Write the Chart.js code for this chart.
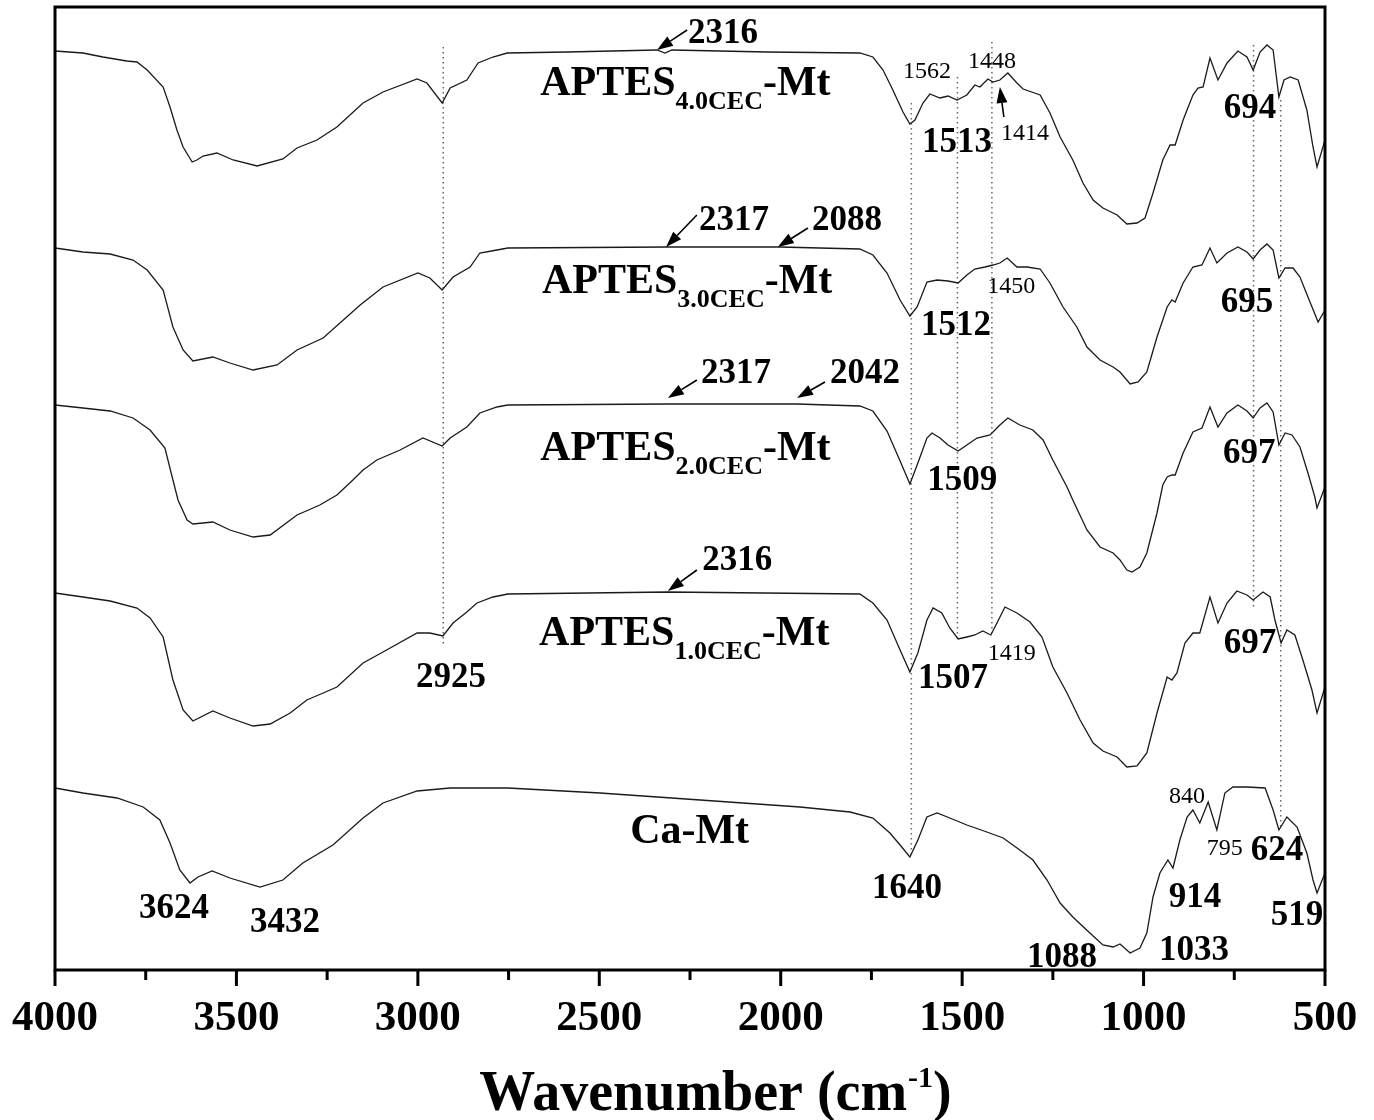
<!DOCTYPE html>
<html>
<head>
<meta charset="utf-8">
<title>FTIR spectra of Ca-Mt and APTES-Mt</title>
<script src="https://cdn.jsdelivr.net/npm/chart.js@4.4.1/dist/chart.umd.min.js"></script>
<style>
    html, body { margin: 0; padding: 0; background: #fff; }
    #wrap { width: 1374px; height: 1120px; }
</style>
</head>
<body>
<div id="wrap"><canvas id="plot1" width="1374" height="1120"></canvas></div>
<script>
// wavenumbers (cm-1) and offset transmittance (a.u.)

const wnCaMt = [4000, 3923, 3829, 3757, 3711, 3683, 3656, 3628, 3606, 3567, 3518, 3435, 3372, 3317, 3234, 3151, 3096, 3002, 2911, 2752, 2498, 2222, 1947, 1809, 1746, 1699, 1671, 1644, 1622, 1597, 1569, 1534, 1487, 1432, 1387, 1341, 1305, 1266, 1230, 1195, 1148, 1112, 1084, 1065, 1037, 1010, 991, 974, 955, 933, 919, 900, 880, 864, 845, 822, 798, 776, 754, 715, 665, 643, 627, 605, 577, 550, 533, 522, 500];
const tCaMt = [182, 177, 172, 163, 150, 127, 100, 87, 93, 99, 92, 83, 90, 107, 125, 152, 167, 179, 182, 182, 177, 170, 163, 158, 152, 137, 125, 113, 130, 153, 157, 152, 145, 138, 132, 120, 110, 90, 67, 53, 37, 25, 23, 26, 17, 22, 37, 73, 97, 110, 102, 130, 153, 160, 147, 168, 140, 177, 183, 183, 182, 160, 140, 153, 143, 117, 90, 77, 97];

const wnA1 = [4000, 3923, 3848, 3774, 3738, 3702, 3675, 3647, 3620, 3565, 3518, 3454, 3407, 3352, 3306, 3261, 3223, 3151, 3096, 3002, 2967, 2931, 2903, 2865, 2837, 2793, 2752, 2311, 1782, 1746, 1707, 1671, 1644, 1622, 1597, 1580, 1556, 1534, 1511, 1487, 1465, 1443, 1421, 1404, 1382, 1349, 1313, 1280, 1250, 1211, 1175, 1139, 1112, 1073, 1046, 1018, 991, 963, 935, 922, 908, 886, 864, 845, 817, 795, 770, 743, 715, 698, 671, 651, 638, 621, 605, 583, 561, 536, 522, 500];
const tA1 = [377, 373, 369, 362, 352, 333, 290, 260, 249, 259, 252, 244, 246, 257, 270, 277, 283, 307, 318, 337, 337, 334, 347, 358, 367, 373, 376, 378, 376, 367, 350, 320, 298, 317, 350, 362, 357, 342, 331, 333, 335, 339, 335, 347, 363, 357, 348, 333, 303, 277, 250, 227, 219, 213, 203, 204, 217, 257, 293, 290, 297, 327, 337, 337, 373, 347, 367, 379, 375, 370, 378, 373, 350, 327, 340, 335, 310, 280, 257, 283];

const wnA2 = [4000, 3923, 3848, 3785, 3738, 3697, 3675, 3661, 3636, 3620, 3565, 3518, 3454, 3407, 3333, 3270, 3223, 3179, 3151, 3113, 3049, 2986, 2933, 2911, 2865, 2829, 2782, 2752, 2311, 1955, 1782, 1746, 1707, 1671, 1644, 1622, 1597, 1583, 1561, 1539, 1511, 1487, 1459, 1423, 1396, 1374, 1341, 1305, 1277, 1250, 1211, 1195, 1156, 1120, 1084, 1065, 1046, 1032, 1010, 991, 963, 947, 935, 922, 913, 891, 864, 839, 817, 795, 770, 740, 715, 698, 679, 660, 643, 627, 610, 591, 569, 547, 528, 522, 500];
const tA2 = [565, 562, 559, 552, 540, 522, 490, 470, 450, 446, 448, 440, 433, 435, 455, 465, 475, 490, 500, 510, 520, 532, 524, 532, 543, 557, 563, 565, 566, 566, 564, 559, 539, 509, 486, 507, 532, 537, 532, 525, 519, 525, 532, 535, 545, 552, 545, 540, 530, 510, 483, 470, 440, 423, 417, 410, 400, 398, 403, 417, 457, 485, 493, 495, 495, 517, 538, 542, 563, 543, 557, 565, 559, 552, 562, 567, 558, 525, 537, 535, 523, 497, 473, 462, 483];

const wnA3 = [4000, 3923, 3848, 3785, 3746, 3702, 3675, 3647, 3620, 3565, 3518, 3454, 3388, 3333, 3261, 3159, 3096, 3000, 2967, 2933, 2903, 2856, 2829, 2782, 2752, 2313, 2002, 1782, 1746, 1707, 1671, 1644, 1624, 1597, 1569, 1539, 1511, 1487, 1465, 1437, 1415, 1396, 1376, 1349, 1321, 1285, 1258, 1222, 1184, 1156, 1120, 1084, 1065, 1037, 1015, 991, 963, 935, 922, 913, 891, 864, 839, 817, 798, 770, 740, 715, 698, 679, 660, 643, 627, 610, 588, 569, 547, 519, 500];
const tA3 = [722, 718, 716, 710, 700, 680, 643, 620, 609, 613, 607, 600, 605, 620, 632, 665, 683, 697, 692, 680, 693, 703, 717, 720, 722, 723, 723, 721, 715, 697, 670, 654, 663, 688, 690, 689, 687, 695, 701, 703, 705, 707, 712, 703, 703, 701, 687, 663, 643, 623, 610, 603, 598, 586, 588, 598, 633, 663, 670, 668, 687, 703, 705, 722, 707, 717, 723, 718, 711, 720, 726, 720, 692, 702, 702, 693, 673, 648, 660];

const wnA4 = [4000, 3923, 3868, 3802, 3774, 3746, 3702, 3683, 3664, 3647, 3622, 3609, 3592, 3554, 3509, 3443, 3372, 3333, 3278, 3223, 3151, 3096, 3002, 2975, 2933, 2911, 2865, 2834, 2793, 2754, 2589, 2341, 2319, 2300, 2038, 1782, 1746, 1718, 1691, 1663, 1644, 1630, 1608, 1589, 1561, 1539, 1514, 1487, 1465, 1451, 1429, 1415, 1396, 1374, 1349, 1332, 1285, 1258, 1230, 1195, 1167, 1139, 1112, 1073, 1046, 1018, 996, 974, 947, 927, 913, 891, 864, 850, 836, 817, 795, 770, 740, 715, 698, 679, 660, 643, 627, 613, 596, 574, 550, 533, 522, 500];
const tA4 = [919, 917, 913, 909, 908, 900, 883, 863, 840, 823, 808, 810, 814, 817, 810, 804, 811, 822, 830, 843, 867, 878, 891, 887, 867, 882, 890, 907, 913, 917, 918, 920, 917, 920, 918, 917, 913, 900, 880, 858, 846, 850, 867, 876, 872, 874, 870, 875, 885, 883, 891, 888, 890, 897, 887, 881, 875, 857, 833, 810, 787, 770, 762, 755, 746, 747, 752, 777, 810, 825, 825, 850, 875, 882, 883, 912, 890, 907, 919, 913, 900, 918, 925, 920, 873, 890, 893, 890, 860, 823, 803, 830];

// dotted guide lines
const guideWn = [2930, 1640, 1513, 1418, 697, 622];
const guideTop = [923, 867, 893, 928, 925, 870];
const guideBottom = [323, 112, 330, 337, 362, 140];

// sample names
const nameMain = ["Ca-Mt", "APTES", "APTES", "APTES", "APTES"];
const nameSub = ["", "1.0CEC", "2.0CEC", "3.0CEC", "4.0CEC"];
const nameTail = ["", "-Mt", "-Mt", "-Mt", "-Mt"];
const nameWn = [2415, 2666, 2663, 2658, 2663];
const nameVal = [127, 325, 510, 677, 875];

// peak labels
const boldPeakText = ["2316", "2317", "2088", "2317", "2042", "2316", "1513", "694", "1512", "695", "1509", "697", "1507", "697", "1640", "624", "914", "519", "1033", "1088", "3624", "3432", "2925"];
const boldPeakWn = [2159, 2129, 1817, 2123, 1768, 2120, 1514, 707, 1517, 715, 1500, 709, 1525, 707, 1652, 632, 858, 577, 861, 1225, 3672, 3366, 2909];
const boldPeakVal = [927, 740, 740, 587, 587, 400, 818, 852, 635, 658, 480, 507, 282, 317, 72, 110, 63, 45, 10, 3, 52, 38, 283];

const smallPeakText = ["1562", "1448", "1414", "1450", "1419", "840", "795"];
const smallPeakWn = [1597, 1418, 1327, 1365, 1363, 880, 776];
const smallPeakVal = [892, 902, 830, 677, 310, 167, 115];

// arrows: tail -> head
const arrowFromWn = [2258, 2231, 1925, 2231, 1878, 2231, 1385];
const arrowFromVal = [940, 755, 742, 590, 588, 400, 853];
const arrowToWn = [2341, 2316, 2008, 2311, 1955, 2311, 1396];
const arrowToVal = [920, 723, 723, 572, 572, 379, 883];

const serif = "'Liberation Serif', 'Times New Roman', serif";

function toPoints(xs, ys) {
    return xs.map((x, i) => ({ x: x, y: ys[i] }));
}

const spectra = [
    { label: "Ca-Mt", data: toPoints(wnCaMt, tCaMt) },
    { label: "APTES1.0CEC-Mt", data: toPoints(wnA1, tA1) },
    { label: "APTES2.0CEC-Mt", data: toPoints(wnA2, tA2) },
    { label: "APTES3.0CEC-Mt", data: toPoints(wnA3, tA3) },
    { label: "APTES4.0CEC-Mt", data: toPoints(wnA4, tA4) }
].map(s => ({
    label: s.label,
    data: s.data,
    borderColor: "#1a1a1a",
    borderWidth: 1.3,
    pointRadius: 0,
    tension: 0,
    fill: false
}));

const guides = guideWn.map((w, i) => ({
    label: "guide" + i,
    data: [{ x: w, y: guideTop[i] }, { x: w, y: guideBottom[i] }],
    borderColor: "#666",
    borderWidth: 1.5,
    borderDash: [1.5, 3.5],
    pointRadius: 0,
    fill: false
}));

const annotate = {
    id: "annotate",
    afterDatasetsDraw(chart) {
        const { ctx, scales } = chart;
        const X = v => scales.x.getPixelForValue(v);
        const Y = v => scales.y.getPixelForValue(v);
        ctx.save();
        ctx.fillStyle = "#000";
        ctx.strokeStyle = "#000";
        ctx.textBaseline = "alphabetic";

        ctx.textAlign = "center";
        ctx.font = "bold 35px " + serif;
        boldPeakText.forEach((t, i) => ctx.fillText(t, X(boldPeakWn[i]), Y(boldPeakVal[i])));
        ctx.font = "24px " + serif;
        smallPeakText.forEach((t, i) => ctx.fillText(t, X(smallPeakWn[i]), Y(smallPeakVal[i])));

        // sample names with subscripts
        ctx.textAlign = "left";
        nameMain.forEach((m, i) => {
            let x = X(nameWn[i]);
            const y = Y(nameVal[i]);
            ctx.font = "bold 42px " + serif;
            ctx.fillText(m, x, y);
            x += ctx.measureText(m).width;
            if (nameSub[i]) {
                ctx.font = "bold 26px " + serif;
                ctx.fillText(nameSub[i], x, y + 14);
                x += ctx.measureText(nameSub[i]).width;
            }
            if (nameTail[i]) {
                ctx.font = "bold 42px " + serif;
                ctx.fillText(nameTail[i], x, y);
            }
        });

        // arrows
        ctx.lineWidth = 1.6;
        arrowFromWn.forEach((w, i) => {
            const x0 = X(w), y0 = Y(arrowFromVal[i]);
            const x1 = X(arrowToWn[i]), y1 = Y(arrowToVal[i]);
            const ang = Math.atan2(y1 - y0, x1 - x0);
            const hl = 16, hw = 5.5;
            const bx = x1 - hl * Math.cos(ang), by = y1 - hl * Math.sin(ang);
            ctx.beginPath();
            ctx.moveTo(x0, y0);
            ctx.lineTo(bx, by);
            ctx.stroke();
            ctx.beginPath();
            ctx.moveTo(x1, y1);
            ctx.lineTo(bx + hw * Math.sin(ang), by - hw * Math.cos(ang));
            ctx.lineTo(bx - hw * Math.sin(ang), by + hw * Math.cos(ang));
            ctx.closePath();
            ctx.fill();
        });
        ctx.restore();
    },
    afterDraw(chart) {
        const { ctx, chartArea: a, scales } = chart;
        ctx.save();
        ctx.strokeStyle = "#000";
        ctx.lineWidth = 3;
        ctx.strokeRect(a.left, a.top, a.right - a.left, a.bottom - a.top);

        // major and minor ticks
        for (let w = 500; w <= 4000; w += 250) {
            const px = scales.x.getPixelForValue(w);
            const len = w % 500 === 0 ? 16 : 10;
            ctx.beginPath();
            ctx.moveTo(px, a.bottom);
            ctx.lineTo(px, a.bottom + len);
            ctx.stroke();
        }

        // axis title with superscript
        const parts = ["Wavenumber (cm", "-1", ")"];
        ctx.fillStyle = "#000";
        ctx.textAlign = "left";
        ctx.textBaseline = "alphabetic";
        const big = "bold 56px " + serif, sup = "bold 30px " + serif;
        ctx.font = big;
        const w0 = ctx.measureText(parts[0]).width;
        const w2 = ctx.measureText(parts[2]).width;
        ctx.font = sup;
        const w1 = ctx.measureText(parts[1]).width;
        let x = (a.left + a.right) / 2 + 25 - (w0 + w1 + w2) / 2;
        const y = 1110;
        ctx.font = big;
        ctx.fillText(parts[0], x, y);
        x += w0 + 1;
        ctx.font = sup;
        ctx.fillText(parts[1], x, y - 23);
        x += w1;
        ctx.font = big;
        ctx.fillText(parts[2], x, y);
        ctx.restore();
    }
};

new Chart(document.getElementById("plot1"), {
    type: "line",
    data: { datasets: spectra.concat(guides) },
    options: {
        responsive: false,
        devicePixelRatio: 1,
        animation: false,
        layout: { padding: { left: 55, right: 49, top: 7, bottom: 0 } },
        plugins: {
            legend: { display: false },
            tooltip: { enabled: false }
        },
        scales: {
            x: {
                type: "linear",
                reverse: true,
                min: 500,
                max: 4000,
                grid: { display: false, drawTicks: true, tickLength: 20 },
                border: { display: false },
                ticks: {
                    stepSize: 500,
                    padding: 3,
                    color: "#000",
                    font: { family: serif, size: 43, weight: "bold" },
                    callback: v => String(v)
                },
                afterFit: s => { s.height = 150; }
            },
            y: {
                display: false,
                min: 0,
                max: 963
            }
        }
    },
    plugins: [annotate]
});
</script>
</body>
</html>
